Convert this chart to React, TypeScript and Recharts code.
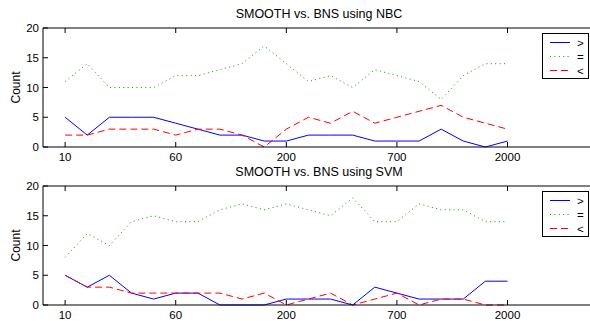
import React from 'react';
import { LineChart, Line, XAxis, YAxis } from 'recharts';

const categories = ['10','20','30','40','50','60','80','100','120','150','200','300','400','500','600','700','900','1100','1400','1700','2000'];
const tickLabels = ['10', '60', '200', '700', '2000'];
const yTicks = [0, 5, 10, 15, 20];

const nbcGreater = [5,2,5,5,5,4,3,2,2,1,1,2,2,2,1,1,1,3,1,0,1];
const nbcEqual = [11,14,10,10,10,12,12,13,14,17,14,11,12,10,13,12,11,8,12,14,14];
const nbcLess = [2,2,3,3,3,2,3,3,2,0,3,5,4,6,4,5,6,7,5,4,3];

const svmGreater = [5,3,5,2,1,2,2,0,0,0,1,1,1,0,3,2,1,1,1,4,4];
const svmEqual = [8,12,10,14,15,14,14,16,17,16,17,16,15,18,14,14,17,16,16,14,14];
const svmLess = [5,3,3,2,2,2,2,2,1,2,0,1,2,0,1,2,0,1,1,0,0];

const FONT = '"Liberation Sans", Arial, Helvetica, sans-serif';
const Y_MAX = 20;
const PLOT_TOP = 28;
const PLOT_LEFT = 43;
const PLOT_RIGHT = 596;
const TICK_LEN = 5;

const SERIES = [
  { key: 'gt', name: '>', color: '#0000ff', dash: undefined as string | undefined },
  { key: 'eq', name: '=', color: '#00a000', dash: '1 3.4' },
  { key: 'lt', name: '<', color: '#ff0000', dash: '7 4' },
];

function build(gt: number[], eq: number[], lt: number[]) {
  return categories.map((c, i) => ({ i, cat: c, gt: gt[i], eq: eq[i], lt: lt[i] }));
}

const tickIdx = tickLabels.map((t) => categories.indexOf(t));

function XTick(props: any) {
  const { x, y, payload } = props;
  return (
    <g>
      <line x1={x} x2={x} y1={PLOT_TOP} y2={PLOT_TOP + TICK_LEN} stroke="#000" strokeWidth={1} />
      <text x={x} y={y + 8} textAnchor="middle" fontSize={11.5} fontFamily={FONT} fill="#000">
        {categories[Number(payload.value)]}
      </text>
    </g>
  );
}

function YTick(props: any) {
  const { x, y, payload } = props;
  const isTop = Number(payload.value) === Y_MAX;
  return (
    <g>
      {isTop ? (
        <line x1={PLOT_LEFT} x2={PLOT_RIGHT} y1={y} y2={y} stroke="#000" strokeWidth={1} />
      ) : null}
      <text x={x} y={y + 4} textAnchor="end" fontSize={11.5} fontFamily={FONT} fill="#000">
        {payload.value}
      </text>
    </g>
  );
}

function LegendBox() {
  return (
    <svg width={48} height={46} style={{ display: 'block' }}>
      <rect x={0.5} y={0.5} width={46} height={45} fill="#fff" stroke="#000" strokeWidth={1} />
      {SERIES.map((s, k) => (
        <g key={s.key}>
          <line x1={8} x2={28} y1={9.5 + k * 14} y2={9.5 + k * 14} stroke={s.color} strokeWidth={1} strokeDasharray={s.dash} />
          <text x={35} y={13.5 + k * 14} fontSize={11.5} fontFamily={FONT} fill="#000">{s.name}</text>
        </g>
      ))}
    </svg>
  );
}

function Panel({ title, data }: { title: string; data: any[] }) {
  return (
    <div style={{ position: 'relative', width: 600, height: 158 }}>
      <LineChart width={600} height={172} data={data} margin={{ top: PLOT_TOP, right: 600 - PLOT_RIGHT, left: 0, bottom: 12 }}>
        <XAxis
          dataKey="i"
          type="number"
          domain={[-1, 24]}
          ticks={tickIdx}
          allowDataOverflow
          height={13}
          stroke="#000"
          tickSize={-TICK_LEN}
          tickMargin={11}
          tick={<XTick />}
          label={{
            content: () => (
              <text x={319} y={18} textAnchor="middle" fontSize={12.5} fontFamily={FONT} fill="#000">{title}</text>
            ),
          }}
        />
        <YAxis
          domain={[0, Y_MAX]}
          ticks={yTicks}
          width={PLOT_LEFT}
          stroke="#000"
          tickSize={-TICK_LEN}
          tickMargin={9}
          tick={<YTick />}
          label={{
            content: () => (
              <text x={20} y={87.5} transform="rotate(-90 20 87.5)" textAnchor="middle" fontSize={12} fontFamily={FONT} fill="#000">Count</text>
            ),
          }}
        />
        {SERIES.map((s) => (
          <Line
            key={s.key}
            dataKey={s.key}
            name={s.name}
            stroke={s.color}
            strokeWidth={1}
            strokeDasharray={s.dash}
            dot={false}
            activeDot={false}
            type="linear"
            isAnimationActive={false}
          />
        ))}
      </LineChart>
      <div style={{ position: 'absolute', left: 542, top: 33 }}>
        <LegendBox />
      </div>
    </div>
  );
}

export default function App() {
  return (
    <div style={{ position: 'absolute', left: 0, top: 0, width: 590, height: 321, overflow: 'hidden', background: '#fff' }}>
      <Panel title="SMOOTH vs. BNS using NBC" data={build(nbcGreater, nbcEqual, nbcLess)} />
      <Panel title="SMOOTH vs. BNS using SVM" data={build(svmGreater, svmEqual, svmLess)} />
    </div>
  );
}
